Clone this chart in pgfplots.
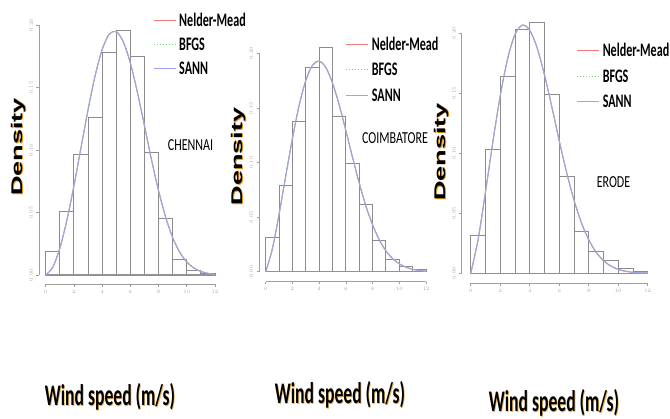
\documentclass[border=0pt]{standalone}
\usepackage{pgfplots}
\pgfplotsset{compat=1.18}
\usepackage{pgfplotstable}
\usepackage{fontspec}
\setmainfont{Carlito}
\newfontfamily\densfont{Liberation Sans}
\usetikzlibrary{calc}

\definecolor{nmred}{RGB}{245,120,120}
\definecolor{bfgsgreen}{RGB}{110,220,110}
\definecolor{sannblue}{RGB}{155,165,232}
\definecolor{shade}{RGB}{230,150,20}

% histogram heights, bins of width 1 (last row closes the interval)
\pgfplotstableread{
x d
0 0.0186
1 0.0510
2 0.0965
3 0.1260
4 0.1780
5 0.1960
6 0.1750
7 0.0980
8 0.0453
9 0.0128
10 0.0035
11 0.0010
12 0.0010
}\histA
\pgfplotstableread{
x d
0 0.0314
1 0.0793
2 0.1380
3 0.1866
4 0.2058
5 0.1424
6 0.0991
7 0.0616
8 0.0284
9 0.0113
10 0.0052
11 0.0024
12 0.0024
}\histB
\pgfplotstableread{
x d
0 0.0314
1 0.1036
2 0.1644
3 0.2028
4 0.2089
5 0.1492
6 0.0806
7 0.0347
8 0.0181
9 0.0103
10 0.0042
11 0.0019
12 0.0019
}\histC

% fitted density curves (the three fits lie on top of each other)
\pgfplotstableread{
x f
0 0
0.5 0.0062
1 0.0214
1.5 0.0438
2 0.0713
2.5 0.1017
3 0.1321
3.5 0.1593
4 0.1803
4.5 0.1926
5 0.1947
5.5 0.1865
6 0.1696
6.5 0.1461
7 0.1194
7.5 0.0922
8 0.0674
8.5 0.0464
9 0.0299
9.5 0.0182
10 0.0104
10.5 0.0056
11 0.0028
11.5 0.0013
12 0.0005
}\fitA
\pgfplotstableread{
x f
0 0
0.5 0.0210
1 0.0526
1.5 0.0876
2 0.1220
2.5 0.1521
3 0.1751
3.5 0.1890
4 0.1928
4.5 0.1870
5 0.1729
5.5 0.1528
6 0.1293
6.5 0.1047
7 0.0812
7.5 0.0603
8 0.0430
8.5 0.0293
9 0.0191
9.5 0.0120
10 0.0072
10.5 0.0041
11 0.0022
11.5 0.0011
12 0.0005
}\fitB
\pgfplotstableread{
x f
0 0
0.5 0.0281
1 0.0675
1.5 0.1093
2 0.1477
2.5 0.1786
3 0.1989
3.5 0.2068
4 0.2026
4.5 0.1879
5 0.1654
5.5 0.1387
6 0.1106
6.5 0.0842
7 0.0611
7.5 0.0423
8 0.0280
8.5 0.0176
9 0.0106
9.5 0.0061
10 0.0033
10.5 0.0017
11 0.0008
11.5 0.0004
12 0.0002
}\fitC

\pgfplotsset{
  rhist/.style={
    scale only axis, anchor=south west, clip=false,
    xmin=0, xmax=12, ymin=0, ymax=0.2,
    axis x line*=bottom, axis y line*=left,
    axis line style={gray!75, -, line width=0.6pt},
    xtick={0,2,4,6,8,10,12}, ytick={0,0.05,0.1,0.15,0.2},
    tick align=outside, major tick length=2.5pt,
    tick style={gray!75, line width=0.6pt},
    ticklabel style={font=\fontsize{4.5}{5}\selectfont, text=gray!70},
    yticklabel style={rotate=90, anchor=south,
      /pgf/number format/fixed, /pgf/number format/fixed zerofill,
      /pgf/number format/precision=2},
    legend cell align=left,
    legend style={draw=none, fill=none, anchor=north west, inner sep=0pt,
      column sep=3pt,
      nodes={inner sep=0pt, text height=12.3pt, text depth=0pt, anchor=west,
        font=\bfseries\fontsize{12.1}{13}\selectfont}},
    legend image code/.code={\draw[#1] (0pt,0pt) -- (22pt,0pt);},
  },
  bars/.style={ybar interval, fill=white, draw=gray!90, line width=0.9pt, forget plot},
  base/.style={gray!85, line width=1.4pt, forget plot},
  nm/.style={nmred, line width=1pt, smooth},
  bf/.style={bfgsgreen, line width=1pt, dotted, smooth},
  sa/.style={sannblue, line width=1pt, smooth},
}
\newcommand{\lgt}[1]{\scalebox{1}[1.58]{#1}}
\newcommand{\dens}[1]{%
  \node[rotate=90, text=shade] at ($(#1)+(1.2pt,-0.6pt)$) {\scalebox{1.75}[1]{\densfont\bfseries\fontsize{15.5}{17}\selectfont Density}};
  \node[rotate=90] at (#1) {\scalebox{1.75}[1]{\densfont\bfseries\fontsize{15.5}{17}\selectfont Density}};}
\newcommand{\wind}[1]{%
  \node[text=shade!70, inner sep=0pt] at ($(#1)+(0.8pt,-0.5pt)$) {\scalebox{1}[1.7]{\bfseries\fontsize{17.6}{19}\selectfont Wind speed (m/s)}};
  \node[inner sep=0pt] at (#1) {\scalebox{1}[1.7]{\bfseries\fontsize{17.6}{19}\selectfont Wind speed (m/s)}};}
\newcommand{\city}[2]{\node at (#1) {\scalebox{1}[1.4]{\fontsize{12}{13}\selectfont #2}};}

\begin{document}
\begin{tikzpicture}
\useasboundingbox (0pt,0pt) rectangle (670pt,419pt);
\fill[white] (0pt,0pt) rectangle (670pt,419pt);

% CHENNAI
\begin{axis}[rhist, at={(45.7pt,144pt)}, width=169.3pt, height=250pt,
  axis x line shift=9.3pt, axis y line shift=6.7pt,
  legend style={at={(0.634,1.0446)}, row sep=11.7pt}]
\addplot[bars] table[x=x, y=d] {\histA};
\addplot[base] coordinates {(0,0) (12,0)};
\addplot[nm] table[x=x, y=f] {\fitA};
\addplot[bf] table[x=x, y=f] {\fitA};
\addplot[sa] table[x=x, y=f] {\fitA};
\legend{\lgt{Nelder-Mead}, \lgt{BFGS}, \lgt{SANN}}
\end{axis}

% COIMBATORE
\begin{axis}[rhist, at={(265.7pt,147.3pt)}, width=160.3pt, height=218.4pt,
  axis x line shift=10pt, axis y line shift=6.7pt,
  legend style={at={(0.499,1.0707)}, row sep=13.2pt}]
\addplot[bars] table[x=x, y=d] {\histB};
\addplot[base] coordinates {(0,0) (12,0)};
\addplot[nm] table[x=x, y=f] {\fitB};
\addplot[bf] table[x=x, y=f] {\fitB};
\addplot[sa] table[x=x, y=f] {\fitB};
\legend{\lgt{Nelder-Mead}, \lgt{BFGS}, \lgt{SANN}}
\end{axis}

% ERODE
\begin{axis}[rhist, at={(470.7pt,145.7pt)}, width=177pt, height=240pt,
  axis x line shift=10pt, axis y line shift=9pt,
  legend style={at={(0.598,0.956)}, row sep=13.5pt}]
\addplot[bars] table[x=x, y=d] {\histC};
\addplot[base] coordinates {(0,0) (12,0)};
\addplot[nm] table[x=x, y=f] {\fitC};
\addplot[bf] table[x=x, y=f] {\fitC};
\addplot[sa] table[x=x, y=f] {\fitC};
\legend{\lgt{Nelder-Mead}, \lgt{BFGS}, \lgt{SANN}}
\end{axis}

\dens{18.3pt,272pt}
\dens{238pt,262.5pt}
\dens{441.5pt,267pt}

\city{190.5pt,274pt}{CHENNAI}
\city{395pt,281pt}{COIMBATORE}
\city{613.5pt,237pt}{ERODE}

\wind{110pt,22pt}
\wind{340pt,24pt}
\wind{554pt,16pt}
\end{tikzpicture}
\end{document}
